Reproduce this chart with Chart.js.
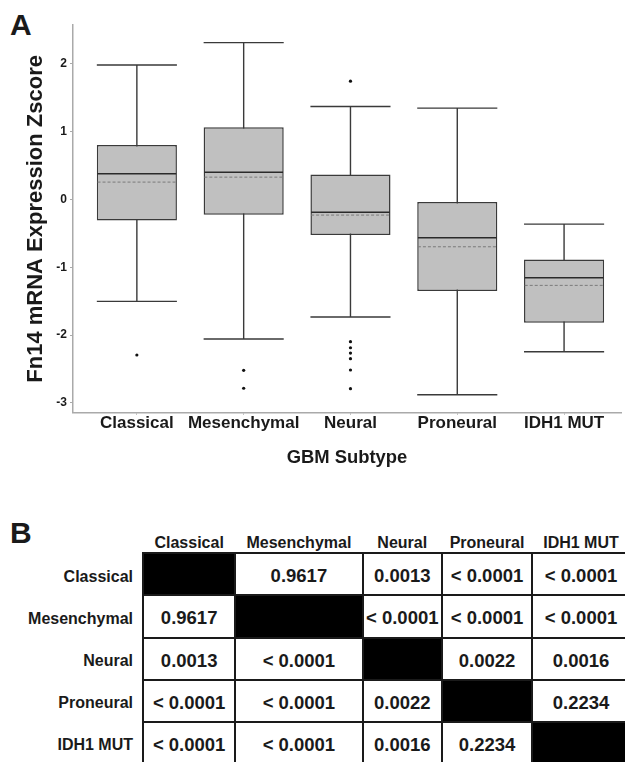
<!DOCTYPE html>
<html>
<head>
<meta charset="utf-8">
<script src="https://cdn.jsdelivr.net/npm/chart.js@4.4.1/dist/chart.umd.min.js"></script>
<style>
  html, body { margin: 0; padding: 0; background: #fff; }
  body { width: 625px; height: 762px; position: relative; overflow: hidden;
         font-family: 'Liberation Sans', Arial, sans-serif; color: #1a1a1a; }
  #chartA { position: absolute; left: 0; top: 0; }
  .panel { position: absolute; font-weight: bold; font-size: 30px; line-height: 1; }
  .hdr, .rowlab, .cell { position: absolute; font-weight: bold; display: flex; align-items: center; white-space: nowrap; }
  .hdr { font-size: 16px; justify-content: center; }
  .rowlab { font-size: 16px; justify-content: flex-end; }
  .cell { font-size: 18.5px; justify-content: center; }
  .line { position: absolute; background: #1a1a1a; }
</style>
</head>
<body>
<div class="panel" style="left:10px; top:10px;">A</div>
<canvas id="chartA" width="625" height="480"></canvas>
<div class="panel" style="left:10px; top:518px;">B</div>
<div id="tableB"></div>

<script>
// GBM subtypes (box plot categories + table rows/cols)
const subtypes = ['Classical', 'Mesenchymal', 'Neural', 'Proneural', 'IDH1 MUT'];

// box plot values
const whiskerHigh = [1.98, 2.31, 1.37, 1.345, -0.364];
const q3 = [0.80, 1.065, 0.368, -0.04, -0.885];
const medians = [0.377, 0.402, -0.191, -0.566, -1.155];
const means = [0.255, 0.328, -0.231, -0.698, -1.267];
const q1 = [-0.309, -0.227, -0.526, -1.351, -1.817];
const whiskerLow = [-1.502, -2.057, -1.733, -2.878, -2.244];
const outliers = [
    [-2.293],
    [-2.518, -2.783],
    [1.742, -2.097, -2.186, -2.264, -2.347, -2.514, -2.789],
    [],
    []
];
const yTicks = [-3, -2, -1, 0, 1, 2];

// pairwise p-values (panel B)
const pValues = [
    [null, '0.9617', '0.0013', '< 0.0001', '< 0.0001'],
    ['0.9617', null, '< 0.0001', '< 0.0001', '< 0.0001'],
    ['0.0013', '< 0.0001', null, '0.0022', '0.0016'],
    ['< 0.0001', '< 0.0001', '0.0022', null, '0.2234'],
    ['< 0.0001', '< 0.0001', '0.0016', '0.2234', null]
];

Chart.defaults.font.family = "'Liberation Sans', Arial, sans-serif";
Chart.defaults.color = '#1a1a1a';

// whiskers behind the boxes, median / mean lines on top
const boxLines = {
    id: 'boxLines',
    beforeDatasetsDraw(chart) {
        const { ctx, scales: { x, y } } = chart;
        const bars = chart.getDatasetMeta(0).data;
        ctx.save();
        ctx.strokeStyle = '#3a3a3a';
        ctx.lineWidth = 1.4;
        bars.forEach((bar, i) => {
            const cx = x.getPixelForValue(i);
            const half = bar.width / 2;
            const top = y.getPixelForValue(whiskerHigh[i]);
            const bot = y.getPixelForValue(whiskerLow[i]);
            ctx.beginPath();
            ctx.moveTo(cx, top); ctx.lineTo(cx, bot);
            ctx.moveTo(cx - half, top); ctx.lineTo(cx + half, top);
            ctx.moveTo(cx - half, bot); ctx.lineTo(cx + half, bot);
            ctx.stroke();
        });
        ctx.restore();
    },
    afterDatasetsDraw(chart) {
        const { ctx, scales: { x, y } } = chart;
        const bars = chart.getDatasetMeta(0).data;
        ctx.save();
        bars.forEach((bar, i) => {
            const cx = x.getPixelForValue(i);
            const half = bar.width / 2 - 0.7;
            // mean (dashed)
            const ym = y.getPixelForValue(means[i]);
            ctx.strokeStyle = '#7a7a7a';
            ctx.lineWidth = 1;
            ctx.setLineDash([3, 2]);
            ctx.beginPath();
            ctx.moveTo(cx - half, ym); ctx.lineTo(cx + half, ym);
            ctx.stroke();
            // median
            const yMed = y.getPixelForValue(medians[i]);
            ctx.strokeStyle = '#2a2a2a';
            ctx.lineWidth = 1.5;
            ctx.setLineDash([]);
            ctx.beginPath();
            ctx.moveTo(cx - half, yMed); ctx.lineTo(cx + half, yMed);
            ctx.stroke();
        });
        ctx.restore();
    }
};

const outlierPoints = [];
outliers.forEach((list, i) => list.forEach(v => outlierPoints.push({ x: i, y: v })));

new Chart(document.getElementById('chartA'), {
    type: 'bar',
    data: {
        datasets: [{
            label: 'IQR',
            data: subtypes.map((s, i) => ({ x: i, y: [q1[i], q3[i]] })),
            backgroundColor: '#c0c0c0',
            borderColor: '#3a3a3a',
            borderWidth: 1.5,
            borderSkipped: false,
            categoryPercentage: 1,
            barPercentage: 0.75
        }, {
            type: 'scatter',
            label: 'Outliers',
            data: outlierPoints,
            pointRadius: 1.6,
            pointBackgroundColor: '#111',
            pointBorderWidth: 0
        }]
    },
    options: {
        responsive: false,
        animation: false,
        layout: { padding: { top: 25, right: 2, left: 0, bottom: 0 } },
        plugins: { legend: { display: false }, tooltip: { enabled: false } },
        scales: {
            x: {
                type: 'linear',
                offset: false,
                min: -0.598,
                max: 4.533,
                afterBuildTicks: s => { s.ticks = subtypes.map((_, i) => ({ value: i })); },
                afterFit: s => { s.height = 67.3; },
                grid: { offset: false, drawOnChartArea: false, tickLength: 2, tickColor: '#aaa' },
                border: { color: '#aaa', width: 1.5 },
                ticks: {
                    autoSkip: false, maxRotation: 0, padding: 0,
                    font: { size: 17, weight: 'bold', lineHeight: 1 },
                    callback: v => subtypes[v]
                },
                title: {
                    display: true, text: 'GBM Subtype',
                    font: { size: 18.4, weight: 'bold', lineHeight: 1.2 },
                    padding: { top: 0, bottom: 11.4 }
                }
            },
            y: {
                min: -3.143,
                max: 2.57,
                afterBuildTicks: s => { s.ticks = yTicks.map(v => ({ value: v })); },
                afterFit: s => { s.width = 73; },
                grid: { drawOnChartArea: false, tickLength: 3, tickColor: '#aaa' },
                border: { color: '#aaa', width: 1.5 },
                ticks: { padding: 3, font: { size: 12, weight: 'bold' } },
                title: {
                    display: true, text: 'Fn14 mRNA Expression Zscore',
                    font: { size: 22, weight: 'bold', lineHeight: 1.2 },
                    padding: { top: 23.2, bottom: 0 }
                }
            }
        }
    },
    plugins: [boxLines]
});

// panel B: p-value table
const colEdges = [143, 235.3, 362.5, 442, 532, 630];
const tableTop = 553.3;
const rowH = 42.1;
const table = document.getElementById('tableB');

function addDiv(cls, style, text) {
    const d = document.createElement('div');
    d.className = cls;
    Object.assign(d.style, style);
    if (text) d.textContent = text;
    table.appendChild(d);
}

subtypes.forEach((name, c) => {
    addDiv('hdr', { left: colEdges[c] + 'px', width: (colEdges[c + 1] - colEdges[c]) + 'px',
        top: (tableTop - 20.5) + 'px', height: '20px' }, name);
});

subtypes.forEach((name, r) => {
    const top = tableTop + r * rowH;
    addDiv('rowlab', { left: '0px', width: '133px', top: (top + 2.5) + 'px', height: rowH + 'px' }, name);
    pValues[r].forEach((val, c) => {
        const style = { left: colEdges[c] + 'px', width: (colEdges[c + 1] - colEdges[c]) + 'px',
            top: (top + 2) + 'px', height: rowH + 'px' };
        if (val === null) {
            style.background = '#000';
            style.top = top + 'px';
        }
        addDiv('cell', style, val);
    });
});

// grid lines
for (let r = 0; r <= subtypes.length; r++) {
    addDiv('line', { left: colEdges[0] + 'px', width: (colEdges[5] - colEdges[0]) + 'px',
        top: (tableTop + r * rowH - 1) + 'px', height: '2px' });
}
colEdges.forEach(xe => {
    addDiv('line', { left: (xe - 1) + 'px', width: '2px', top: (tableTop - 1) + 'px',
        height: (rowH * 5 + 2) + 'px' });
});
</script>
</body>
</html>
